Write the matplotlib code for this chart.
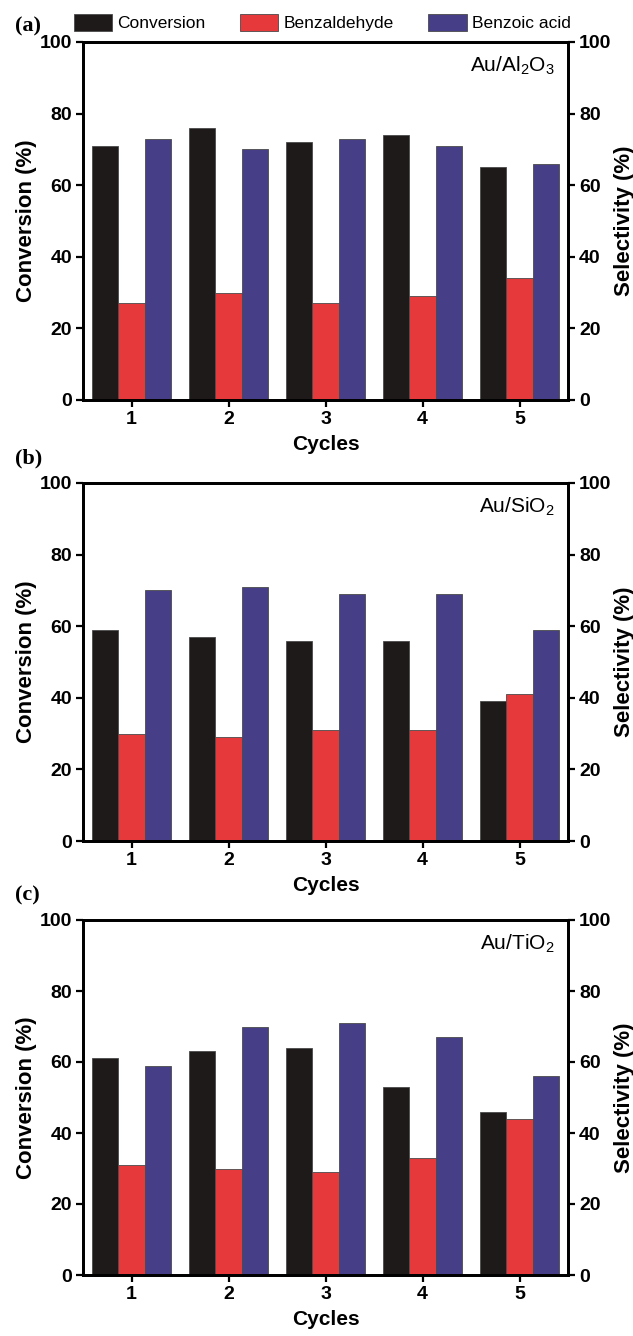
import matplotlib
matplotlib.use('Agg')
import matplotlib.pyplot as plt
import numpy as np

plt.rcParams['font.family'] = ['Liberation Sans', 'DejaVu Sans']
plt.rcParams['mathtext.fontset'] = 'custom'
plt.rcParams['mathtext.rm'] = 'Liberation Sans'

cycles = [1, 2, 3, 4, 5]
series = ['Conversion', 'Benzaldehyde', 'Benzoic acid']
colors = ['#1e1a1a', '#e5393b', '#463f87']

conv_al = [71, 76, 72, 74, 65]
benzald_al = [27, 30, 27, 29, 34]
benzoic_al = [73, 70, 73, 71, 66]

conv_si = [59, 57, 56, 56, 39]
benzald_si = [30, 29, 31, 31, 41]
benzoic_si = [70, 71, 69, 69, 59]

conv_ti = [61, 63, 64, 53, 46]
benzald_ti = [31, 30, 29, 33, 44]
benzoic_ti = [59, 70, 71, 67, 56]

panels = [
    ('(a)', r'Au/Al$_2$O$_3$', [conv_al, benzald_al, benzoic_al]),
    ('(b)', r'Au/SiO$_2$', [conv_si, benzald_si, benzoic_si]),
    ('(c)', r'Au/TiO$_2$', [conv_ti, benzald_ti, benzoic_ti]),
]

fig = plt.figure(figsize=(6.33, 13.36), dpi=100)
W, H = 633, 1336
# axes boxes in pixels (top, bottom) and where the panel letter sits
boxes = [(42, 400), (483, 841), (920, 1275)]
label_bottom = [36, 468, 905]
left, right = 83, 568

x = np.array(cycles)
w = 0.27
handles = []
for (lab, cat, vals), (top, bot), lb in zip(panels, boxes, label_bottom):
    ax = fig.add_axes([left / W, 1 - bot / H, (right - left) / W, (bot - top) / H])
    for i, v in enumerate(vals):
        b = ax.bar(x + (i - 1) * w, v, w, color=colors[i], edgecolor='#4a4a4a',
                   linewidth=0.6, label=series[i], zorder=2)
        if lab == '(a)':
            handles.append(b)
    ax.set_xlim(0.5, 5.5)
    ax.set_ylim(0, 100)
    ax.set_xticks(cycles)
    ax.set_yticks([0, 20, 40, 60, 80, 100])
    ax2 = ax.twinx()
    ax2.set_ylim(0, 100)
    ax2.set_yticks([0, 20, 40, 60, 80, 100])
    for a in (ax, ax2):
        for s in a.spines.values():
            s.set_linewidth(2)
        a.tick_params(width=1.6, length=5, labelsize=14, pad=3, direction='out')
        for t in a.get_xticklabels() + a.get_yticklabels():
            t.set_fontweight('bold')
    ax.set_ylabel('Conversion (%)', fontsize=16, fontweight='bold', labelpad=2)
    ax2.set_ylabel('Selectivity (%)', fontsize=16, fontweight='bold', labelpad=2)
    ax.set_xlabel('Cycles', fontsize=15, fontweight='bold', labelpad=5)
    ax.text(0.973, 0.965, cat, transform=ax.transAxes, ha='right', va='top', fontsize=15)
    fig.text(15 / W, 1 - lb / H, lab, family='Liberation Serif',
             fontweight='bold', fontsize=16, ha='left', va='bottom')

fig.legend(handles=handles, labels=series, ncol=3, loc='center',
           bbox_to_anchor=(0.509, 1 - 22.5 / H), frameon=False, fontsize=12.5,
           handlelength=2.2, handleheight=1.1, columnspacing=2.0, handletextpad=0.3,
           borderpad=0.1)

fig.savefig('out.png', dpi=100)
